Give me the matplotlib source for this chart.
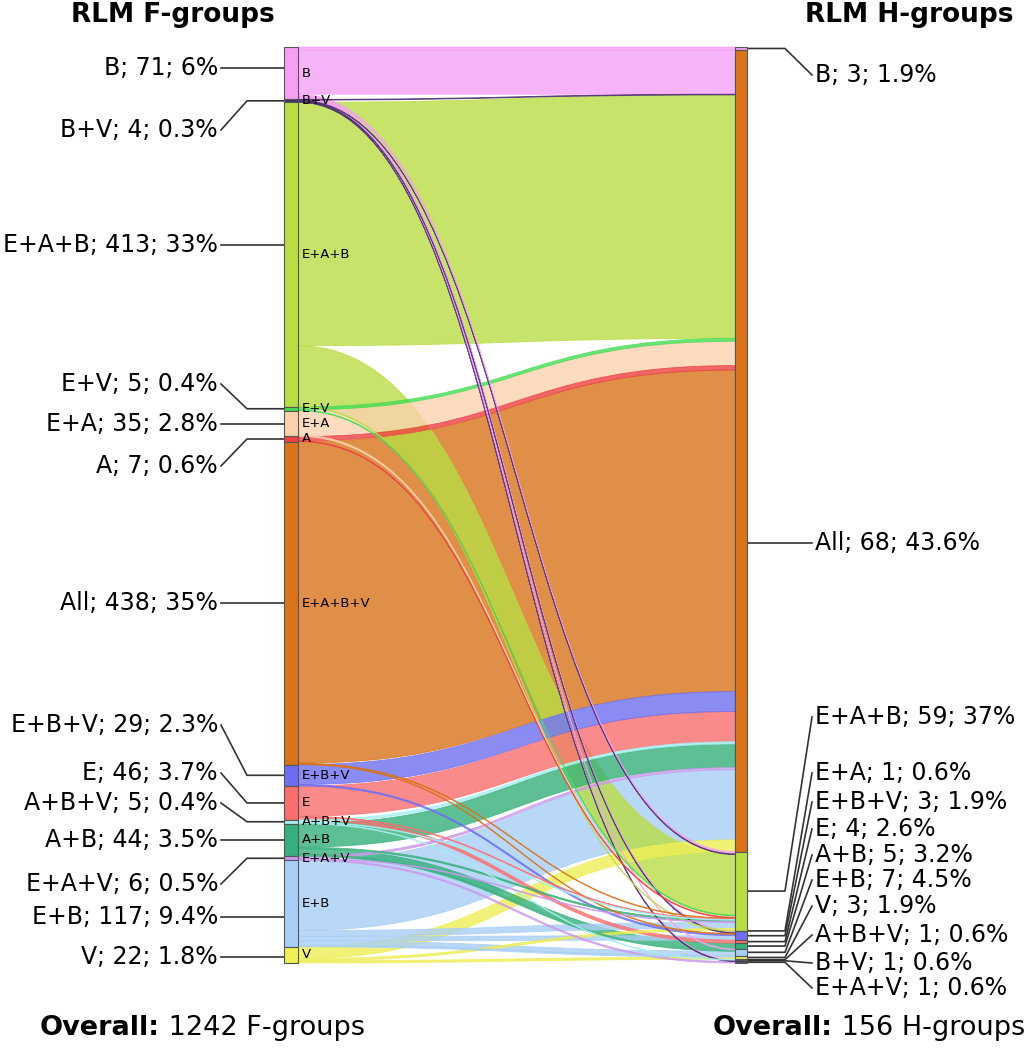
import numpy as np
import matplotlib.pyplot as plt
from matplotlib.path import Path
from matplotlib.patches import PathPatch, Rectangle

# RLM F-groups (left) and H-groups (right)
f_groups = ["B", "B+V", "E+A+B", "E+V", "E+A", "A", "All", "E+B+V", "E",
            "A+B+V", "A+B", "E+A+V", "E+B", "V"]
f_counts = [71, 4, 413, 5, 35, 7, 438, 29, 46, 5, 44, 6, 117, 22]
f_pct = ["6%", "0.3%", "33%", "0.4%", "2.8%", "0.6%", "35%", "2.3%",
         "3.7%", "0.4%", "3.5%", "0.5%", "9.4%", "1.8%"]

h_groups = ["B", "All", "E+A+B", "E+A", "E+B+V", "E", "A+B", "E+B", "V",
            "A+B+V", "B+V", "E+A+V"]
h_counts = [3, 68, 59, 1, 3, 4, 5, 7, 3, 1, 1, 1]
h_pct = ["1.9%", "43.6%", "37%", "0.6%", "1.9%", "2.6%", "3.2%", "4.5%",
         "1.9%", "0.6%", "0.6%", "0.6%"]

# number of F-groups going from each F-group class to each H-group class
flows = [
    ("B", "B", 4), ("B", "All", 60), ("B", "E+A+B", 3), ("B", "E+B+V", 2),
    ("B", "E+B", 1), ("B", "B+V", 1),
    ("B+V", "All", 1), ("B+V", "E+A+B", 1), ("B+V", "E+B+V", 1), ("B+V", "B+V", 1),
    ("E+A+B", "All", 330), ("E+A+B", "E+A+B", 82), ("E+A+B", "E+A", 1),
    ("E+V", "All", 4), ("E+V", "E+A+B", 1),
    ("E+A", "All", 33), ("E+A", "E+A+B", 2),
    ("A", "All", 6), ("A", "E+A+B", 1),
    ("All", "All", 436), ("All", "E+A+B", 1), ("All", "E+B+V", 1),
    ("E+B+V", "All", 27), ("E+B+V", "E+B+V", 2),
    ("E", "All", 41), ("E", "E+A+B", 1), ("E", "E", 4),
    ("A+B+V", "All", 3), ("A+B+V", "E+A+B", 1), ("A+B+V", "A+B+V", 1),
    ("A+B", "All", 32), ("A+B", "E+A+B", 2), ("A+B", "A+B", 8), ("A+B", "E+B", 2),
    ("E+A+V", "All", 3), ("E+A+V", "E+A+B", 1), ("E+A+V", "E+A+V", 2),
    ("E+B", "All", 95), ("E+B", "E+A+B", 8), ("E+B", "E+B+V", 6),
    ("E+B", "E+B", 6), ("E+B", "V", 2),
    ("V", "All", 16), ("V", "E+A+B", 3), ("V", "V", 3),
]

colors = {
    "B": "#f5a0f5", "B+V": "#4a2c72", "E+A+B": "#b9dd44", "E+V": "#45dc55",
    "E+A": "#fcd2ae", "A": "#ee4040", "All": "#d8731a", "E+B+V": "#6e6ef2",
    "E": "#fa6e6e", "A+B+V": "#a6eef0", "A+B": "#36b07a", "E+A+V": "#cc99ee",
    "E+B": "#a8cef6", "V": "#eeee55",
}

# layout (pixels)
W, H = 1025, 1050
top, bottom = 47, 963
lx0, lx1 = 284, 298
rx0, rx1 = 735, 747
scale = (bottom - top) / sum(f_counts)

left_label_y = [68, 130, 245, 384, 424, 466, 603, 725, 773, 803, 840, 884, 917, 957]
right_label_y = [75, 543, 717, 773, 802, 829, 855, 880, 906, 935, 963, 988]

fig = plt.figure(figsize=(W / 100, H / 100), dpi=100)
ax = fig.add_axes([0, 0, 1, 1])
ax.set_xlim(0, W)
ax.set_ylim(H, 0)
ax.axis("off")

# node positions
f_top = {}
y = top
for g, c in zip(f_groups, f_counts):
    f_top[g] = y
    y += c * scale

h_sizes = {g: 0 for g in h_groups}
for s, t, v in flows:
    h_sizes[t] += v
h_top = {}
y = top
for g in h_groups:
    h_top[g] = y
    y += h_sizes[g] * scale

# stacking of bands inside nodes
src_off = dict(f_top)
flow_geo = []
for s, t, v in sorted(flows, key=lambda f: (f_groups.index(f[0]), h_groups.index(f[1]))):
    flow_geo.append([s, t, v, src_off[s], None])
    src_off[s] += v * scale
tgt_off = dict(h_top)
for fg in sorted(flow_geo, key=lambda f: (h_groups.index(f[1]), f_groups.index(f[0]))):
    fg[4] = tgt_off[fg[1]]
    tgt_off[fg[1]] += fg[2] * scale

xm = (lx1 + rx0) / 2
for s, t, v, y0, y1 in sorted(flow_geo, key=lambda f: -f[2]):
    h = v * scale
    verts = [(lx1, y0), (xm, y0), (xm, y1), (rx0, y1),
             (rx0, y1 + h), (xm, y1 + h), (xm, y0 + h), (lx1, y0 + h), (lx1, y0)]
    codes = [Path.MOVETO, Path.CURVE4, Path.CURVE4, Path.CURVE4,
             Path.LINETO, Path.CURVE4, Path.CURVE4, Path.CURVE4, Path.CLOSEPOLY]
    ax.add_patch(PathPatch(Path(verts, codes), facecolor=colors[s], alpha=0.8,
                           edgecolor=colors[s], lw=0.6, zorder=2))

# node bars
for g, c in zip(f_groups, f_counts):
    ax.add_patch(Rectangle((lx0, f_top[g]), lx1 - lx0, c * scale, facecolor=colors[g],
                           edgecolor="#555555", lw=0.8, zorder=3))
    inner = "E+A+B+V" if g == "All" else g
    ax.text(lx1 + 4, f_top[g] + c * scale / 2, inner, fontsize=9.5, va="center",
            ha="left", zorder=4)
for g in h_groups:
    ax.add_patch(Rectangle((rx0, h_top[g]), rx1 - rx0, h_sizes[g] * scale,
                           facecolor=colors[g], edgecolor="#555555", lw=0.8, zorder=3))

# left labels
for g, c, p, ly in zip(f_groups, f_counts, f_pct, left_label_y):
    t0 = f_top[g]
    t1 = t0 + c * scale
    if t0 <= ly <= t1:
        ax.plot([221, lx0], [ly, ly], color="#333333", lw=1.2, zorder=1)
    else:
        ay = (t0 + t1) / 2
        ax.plot([221, 247, lx0], [ly, ay, ay], color="#333333", lw=1.2, zorder=1)
    ax.text(218, ly, f"{g}; {c}; {p}", fontsize=17, ha="right", va="center")

# right labels
for g, c, p, ly in zip(h_groups, h_counts, h_pct, right_label_y):
    t0 = h_top[g]
    t1 = t0 + h_sizes[g] * scale
    if t0 <= ly <= t1:
        ax.plot([rx1, 812], [ly, ly], color="#333333", lw=1.2, zorder=1)
    else:
        ay = (t0 + t1) / 2
        ax.plot([rx1, 785, 812], [ay, ay, ly], color="#333333", lw=1.2, zorder=1)
    ax.text(815, ly, f"{g}; {c}; {p}", fontsize=17, ha="left", va="center")

# titles
ax.text(173, 15, "RLM F-groups", fontsize=19, fontweight="bold", ha="center", va="center")
ax.text(909, 15, "RLM H-groups", fontsize=19, fontweight="bold", ha="center", va="center")

# overall counts
renderer = fig.canvas.get_renderer()
for x0, rest in [(40, f" {sum(f_counts)} F-groups"), (713, f" {sum(h_counts)} H-groups")]:
    t = ax.text(x0, 1028, "Overall:", fontsize=19.5, fontweight="bold", ha="left", va="center")
    bb = t.get_window_extent(renderer)
    xend = ax.transData.inverted().transform((bb.x1, bb.y0))[0]
    ax.text(xend, 1028, rest, fontsize=19.5, ha="left", va="center")

fig.savefig("out.png", dpi=100)
